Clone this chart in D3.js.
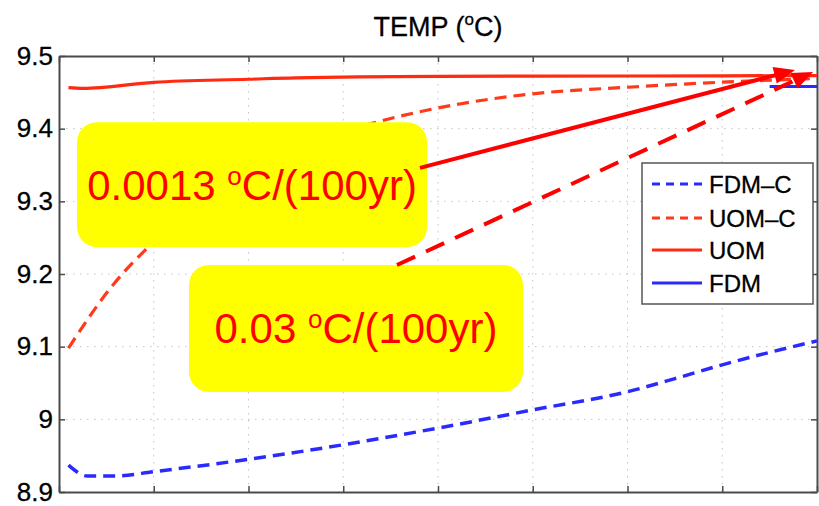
<!DOCTYPE html>
<html><head><meta charset="utf-8">
<script src="https://cdn.jsdelivr.net/npm/d3@7"></script>
<style>body{margin:0;background:#fff}svg{display:block}</style>
</head><body>
<script>
// ---- data ----
const xTicks = [0,1,2,3,4,5,6,7,8];
const yTicks = [8.9,9.0,9.1,9.2,9.3,9.4,9.5];
const seriesNames = ["FDM-C","UOM-C","UOM","FDM"];
const fdmcX = [0.1,0.3,0.6,1,2,3,4,5,6,6.5,7,8];
const fdmcY = [8.937,8.922,8.922,8.928,8.945,8.965,8.988,9.013,9.038,9.056,9.075,9.108];
const uomcX = [0.1,0.57,0.91,1.5,2,2.5,3,3.47,4.23,5,6,7,8];
const uomcY = [9.098,9.185,9.233,9.299,9.341,9.372,9.396,9.413,9.434,9.448,9.457,9.464,9.469];
const uomX = [0.1,0.25,1,2,2.5,4,6,8];
const uomY = [9.4565,9.4555,9.4638,9.468,9.470,9.472,9.4725,9.473];
const fdmX = [7.5,8];
const fdmY = [9.458,9.458];
const trendLabels = ["0.0013","0.03"];

// ---- layout ----
const W=819,H=506;
const svg=d3.select("body").append("svg").attr("width",W).attr("height",H);
const x=d3.scaleLinear().domain([0,8]).range([59,817]);
const y=d3.scaleLinear().domain([8.9,9.5]).range([492,56]);
const font="'Liberation Sans', Arial, sans-serif";
const frameCol="#4a4a4a";

// grid
svg.append("g").selectAll("line.gx").data(xTicks.slice(1,-1)).join("line")
  .attr("x1",d=>x(d)).attr("x2",d=>x(d)).attr("y1",y(9.5)).attr("y2",y(8.9))
  .attr("stroke","#c4c4c4").attr("stroke-width",1).attr("stroke-dasharray","1.5,5.5");
svg.append("g").selectAll("line.gy").data(yTicks.slice(1,-1)).join("line")
  .attr("y1",d=>y(d)).attr("y2",d=>y(d)).attr("x1",x(0)).attr("x2",x(8))
  .attr("stroke","#c4c4c4").attr("stroke-width",1).attr("stroke-dasharray","1.5,5.5");

// axes (ticks inward on all sides)
const fmt=d=>String(+d.toFixed(1));
const gL=svg.append("g").attr("transform",`translate(${x(0)},0)`)
  .call(d3.axisLeft(y).tickValues(yTicks).tickFormat(fmt).tickSizeInner(-6).tickSizeOuter(0).tickPadding(6));
const gR=svg.append("g").attr("transform",`translate(${x(8)},0)`)
  .call(d3.axisRight(y).tickValues(yTicks).tickFormat("").tickSizeInner(-6).tickSizeOuter(0));
const gB=svg.append("g").attr("transform",`translate(0,${y(8.9)})`)
  .call(d3.axisBottom(x).tickValues(xTicks).tickFormat("").tickSizeInner(-6).tickSizeOuter(0));
const gT=svg.append("g").attr("transform",`translate(0,${y(9.5)})`)
  .call(d3.axisTop(x).tickValues(xTicks).tickFormat("").tickSizeInner(-6).tickSizeOuter(0));
[gL,gR,gB,gT].forEach(g=>{
  g.select(".domain").attr("stroke",frameCol).attr("stroke-width",2);
  g.selectAll(".tick line").attr("stroke",frameCol).attr("stroke-width",1.5);
});
gL.selectAll("text").attr("font-family",font).attr("font-size",26).attr("fill","#000")
  .attr("stroke","#000").attr("stroke-width",0.3);

// title
const title=svg.append("text").attr("x",(x(0)+x(8))/2).attr("y",36).attr("text-anchor","middle")
  .attr("font-family",font).attr("font-size",27).attr("fill","#000").attr("stroke","#000").attr("stroke-width",0.3);
title.append("tspan").text("TEMP (");
title.append("tspan").attr("font-size",17).attr("dy",-11).text("o");
title.append("tspan").attr("dy",11).text("C)");

// series
const line=d3.line().x(d=>x(d[0])).y(d=>y(d[1])).curve(d3.curveMonotoneX);
const zip=(a,b)=>a.map((v,i)=>[v,b[i]]);
const series=[
  {name:"FDM-C",pts:zip(fdmcX,fdmcY),color:"#2a2aff",dash:"12,7",w:3.5},
  {name:"UOM-C",pts:zip(uomcX,uomcY),color:"#ff3a1a",dash:"12,7",w:3.2},
  {name:"UOM",pts:zip(uomX,uomY),color:"#ff2a10",dash:null,w:3.2},
  {name:"FDM",pts:zip(fdmX,fdmY),color:"#2a2aff",dash:null,w:3.2}
];
svg.append("g").selectAll("path").data(series).join("path")
  .attr("d",d=>line(d.pts)).attr("fill","none").attr("stroke",d=>d.color)
  .attr("stroke-width",d=>d.w).attr("stroke-dasharray",d=>d.dash);

// annotation boxes
const boxes=[
  {x0:0.19,x1:3.885,y0:9.409,y1:9.237,label:trendLabels[0]},
  {x0:1.372,x1:4.897,y0:9.2124,y1:9.0377,label:trendLabels[1]}
];
const bg=svg.append("g").selectAll("g").data(boxes).join("g");
bg.append("rect").attr("x",d=>x(d.x0)).attr("y",d=>y(d.y0))
  .attr("width",d=>x(d.x1)-x(d.x0)).attr("height",d=>y(d.y1)-y(d.y0))
  .attr("rx",20).attr("ry",20).attr("fill","#ffff00");
const bt=bg.append("text").attr("x",d=>(x(d.x0)+x(d.x1))/2).attr("y",d=>(y(d.y0)+y(d.y1))/2+15)
  .attr("text-anchor","middle").attr("font-family",font).attr("font-size",42).attr("fill","#ff0000");
bt.append("tspan").text(d=>d.label+" ");
bt.append("tspan").attr("font-size",26).attr("dy",-15).text("o");
bt.append("tspan").attr("dy",15).text("C/(100yr)");

// arrows
const arrows=[
  {from:[3.81,9.346],to:[7.768,9.4807],dash:null},
  {from:[3.567,9.2124],to:[7.958,9.478],dash:"20,12"}
];
const ag=svg.append("g");
arrows.forEach(a=>{
  const x1=x(a.from[0]),y1=y(a.from[1]),x2=x(a.to[0]),y2=y(a.to[1]);
  const dx=x2-x1,dy=y2-y1,L=Math.hypot(dx,dy),ux=dx/L,uy=dy/L;
  const hl=21,hw=8.5;
  const bx=x2-ux*hl,by=y2-uy*hl;
  ag.append("line").attr("x1",x1).attr("y1",y1).attr("x2",bx+ux*2).attr("y2",by+uy*2)
    .attr("stroke","#ff0000").attr("stroke-width",4).attr("stroke-dasharray",a.dash);
  ag.append("path").attr("d",`M${x2},${y2}L${bx-uy*hw},${by+ux*hw}L${bx+uy*hw},${by-ux*hw}Z`)
    .attr("fill","#ff0000");
});

// legend
const lg=svg.append("g");
lg.append("rect").attr("x",642).attr("y",163).attr("width",171).attr("height",141)
  .attr("fill","#fff").attr("stroke","#555").attr("stroke-width",1.5);
const legItems=[series[0],series[1],series[2],series[3]];
const ly=[184,218,250,283];
legItems.forEach((s,i)=>{
  lg.append("line").attr("x1",652).attr("x2",702).attr("y1",ly[i]).attr("y2",ly[i])
    .attr("stroke",s.color).attr("stroke-width",3).attr("stroke-dasharray",s.dash?"8,6":null);
  lg.append("text").attr("x",709).attr("y",ly[i]+9).attr("font-family",font).attr("font-size",24)
    .attr("fill","#000").attr("stroke","#000").attr("stroke-width",0.3).text(s.name.replace("-","\u2013"));
});
</script>
</body></html>
